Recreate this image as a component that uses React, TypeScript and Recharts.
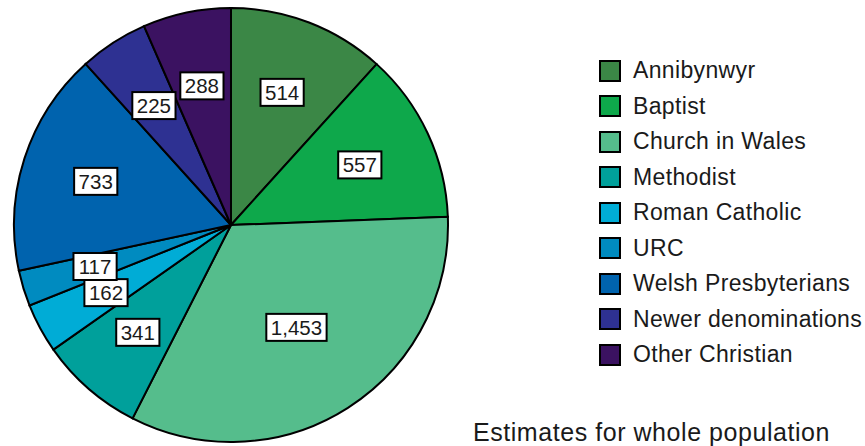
import React from 'react';
import { PieChart, Pie, Cell, Legend } from 'recharts';

const categories = [
  'Annibynwyr',
  'Baptist',
  'Church in Wales',
  'Methodist',
  'Roman Catholic',
  'URC',
  'Welsh Presbyterians',
  'Newer denominations',
  'Other Christian',
];
const values = [514, 557, 1453, 341, 162, 117, 733, 225, 288];
const colors = [
  '#3b8746',
  '#0ea84b',
  '#55bd8c',
  '#00a09b',
  '#00acd6',
  '#008bc0',
  '#0063ae',
  '#2e3192',
  '#3b1261',
];
const footnote = 'Estimates for whole population';

const data = categories.map((name, i) => ({ name, value: values[i] }));

const FONT = '"Liberation Sans", Arial, Helvetica, sans-serif';
const RAD = Math.PI / 180;

const renderLabel = (props: any) => {
  const { cx, cy, midAngle, outerRadius, value, percent } = props;
  const factor = percent > 0.3 ? 0.56 : 0.655;
  const r = outerRadius * factor;
  const x = cx + r * Math.cos(-midAngle * RAD);
  const y = cy + r * Math.sin(-midAngle * RAD);
  const text = Number(value).toLocaleString('en-US');
  const fs = 20.5;
  let w = 0;
  for (const ch of text) w += ch === ',' ? 0.278 : 0.556;
  const bw = w * fs + 9;
  const bh = 27;
  return (
    <g>
      <rect x={x - bw / 2} y={y - bh / 2} width={bw} height={bh} fill="#fff" stroke="#000" strokeWidth={2} />
      <text x={x} y={y + 7.5} textAnchor="middle" fontFamily={FONT} fontSize={fs} fill="#1a1a1a">
        {text}
      </text>
    </g>
  );
};

const renderLegend = () => {
  return (
    <div style={{ fontFamily: FONT }}>
      {categories.map((name, i) => (
        <div key={name} style={{ height: 35.5, display: 'flex', alignItems: 'center' }}>
          <div
            style={{
              width: 18,
              height: 18,
              border: '2px solid #000',
              background: colors[i],
              flex: 'none',
            }}
          />
          <span
            style={{
              marginLeft: 12,
              fontSize: 23,
              letterSpacing: '0.35px',
              color: '#1a1a1a',
              whiteSpace: 'nowrap',
            }}
          >
            {name}
          </span>
        </div>
      ))}
    </div>
  );
};

export default function App() {
  return (
    <div style={{ position: 'absolute', left: 0, top: 0, width: 865, height: 446, background: '#fff' }}>
      <PieChart width={865} height={446} margin={{ top: 0, right: 0, bottom: 0, left: 0 }}>
        <Pie
          data={data}
          dataKey="value"
          nameKey="name"
          cx={231}
          cy={225}
          outerRadius={217}
          startAngle={90}
          endAngle={-270}
          stroke="#000"
          strokeWidth={2}
          label={renderLabel}
          labelLine={false}
          isAnimationActive={false}
        >
          {data.map((d, i) => (
            <Cell key={d.name} fill={colors[i]} />
          ))}
        </Pie>
        <Legend
          content={renderLegend}
          layout="vertical"
          align="right"
          verticalAlign="top"
          wrapperStyle={{ position: 'absolute', left: 599, top: 53, width: 266 }}
        />
      </PieChart>
      <div
        style={{
          position: 'absolute',
          left: 473,
          top: 420,
          fontFamily: FONT,
          fontSize: 25,
          lineHeight: '25px',
          letterSpacing: '0.55px',
          color: '#1a1a1a',
          whiteSpace: 'nowrap',
        }}
      >
        {footnote}
      </div>
    </div>
  );
}
